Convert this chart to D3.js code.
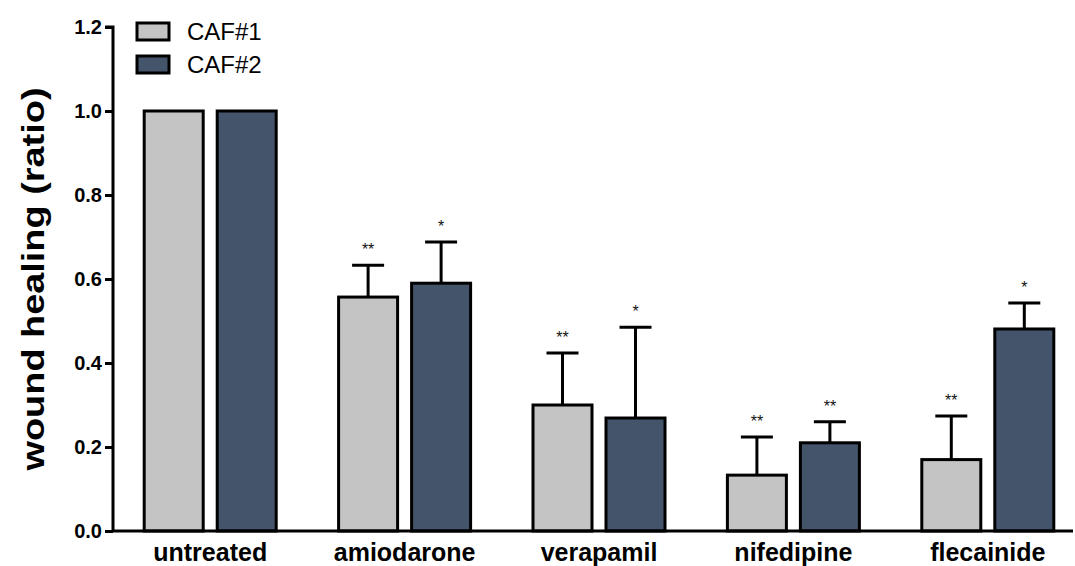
<!DOCTYPE html>
<html><head><meta charset="utf-8">
<script src="https://cdn.jsdelivr.net/npm/d3@7"></script>
<style>body{margin:0;background:#fff}svg{display:block;font-family:"Liberation Sans",Arial,sans-serif}</style>
</head><body><svg id="c" width="1075" height="566"></svg>
<script>
const categories = ["untreated","amiodarone","verapamil","nifedipine","flecainide"];
const series = ["CAF#1","CAF#2"];
const caf1 = [1.0, 0.557, 0.300, 0.133, 0.170];
const caf2 = [1.0, 0.590, 0.269, 0.210, 0.481];
const caf1Err = [0, 0.076, 0.124, 0.091, 0.104];
const caf2Err = [0, 0.098, 0.216, 0.050, 0.062];
const caf1Sig = ["", "**", "**", "**", "**"];
const caf2Sig = ["", "*", "*", "**", "*"];
const yTicks = [0.0, 0.2, 0.4, 0.6, 0.8, 1.0, 1.2];
const colors = ["#c4c4c4", "#44546a"];

const svg = d3.select("#c");
const y = d3.scaleLinear().domain([0, 1.2]).range([531, 27]);
const x0 = d3.scaleBand().domain(categories).range([113, 1085]).padding(0);
const x1 = d3.scaleBand().domain(series).range([-67.5, 67.5]).paddingInner(11/73).paddingOuter(0);

const data = categories.map((c, i) => ({
  cat: c,
  vals: [
    {s: series[0], v: caf1[i], e: caf1Err[i], sig: caf1Sig[i], col: colors[0]},
    {s: series[1], v: caf2[i], e: caf2Err[i], sig: caf2Sig[i], col: colors[1]}
  ]
}));

const g = svg.selectAll("g.grp").data(data).join("g")
  .attr("transform", d => `translate(${x0(d.cat) + x0.bandwidth()/2},0)`);

// error bars (drawn behind bars)
g.selectAll("g.err").data(d => d.vals.filter(v => v.e > 0)).join("g").each(function(d){
  const cx = x1(d.s) + x1.bandwidth()/2;
  const s = d3.select(this);
  s.append("line").attr("x1", cx).attr("x2", cx).attr("y1", y(d.v)).attr("y2", y(d.v + d.e))
    .attr("stroke", "#000").attr("stroke-width", 3);
  s.append("line").attr("x1", cx - 16).attr("x2", cx + 16).attr("y1", y(d.v + d.e)).attr("y2", y(d.v + d.e))
    .attr("stroke", "#000").attr("stroke-width", 3);
  s.append("text").attr("x", cx).attr("y", y(d.v + d.e) - 10).attr("text-anchor", "middle")
    .style("font-size", "16px").attr("fill", "#111").text(d.sig);
});

g.selectAll("rect").data(d => d.vals).join("rect")
  .attr("x", d => x1(d.s) + 1.5)
  .attr("width", x1.bandwidth() - 3)
  .attr("y", d => y(d.v))
  .attr("height", d => y(0) - y(d.v))
  .attr("fill", d => d.col)
  .attr("stroke", "#000").attr("stroke-width", 3);

// y axis
const yAxis = svg.append("g").attr("transform", "translate(113,0)")
  .call(d3.axisLeft(y).tickValues(yTicks).tickFormat(d3.format(".1f")).tickSize(8).tickPadding(3));
yAxis.attr("font-size", null).attr("font-family", null);
yAxis.select(".domain").attr("stroke-width", 3).attr("d", `M-8,${y(1.2)}H0V${y(0)}`);
yAxis.selectAll(".tick line").attr("stroke-width", 3);
yAxis.selectAll(".tick text").style("font-size", "20px").style("font-weight", "bold").attr("fill", "#000");

// x axis
const xAxis = svg.append("g").attr("transform", `translate(0,${y(0)})`)
  .call(d3.axisBottom(x0).tickSize(0).tickPadding(12));
xAxis.attr("font-size", null).attr("font-family", null);
xAxis.select(".domain").attr("stroke-width", 3).attr("d", `M113,0H1073`);
xAxis.selectAll(".tick text").style("font-size", "25px").style("font-weight", "bold").attr("fill", "#000");

// y title
svg.append("text").attr("transform", "translate(44,279) rotate(-90)")
  .attr("text-anchor", "middle").style("font-size", "31px").style("font-weight", "bold")
  .attr("textLength", 383).attr("lengthAdjust", "spacingAndGlyphs")
  .text("wound healing (ratio)");

// legend
const lg = svg.append("g").selectAll("g").data(series).join("g")
  .attr("transform", (d, i) => `translate(137,${23 + i * 33})`);
lg.append("rect").attr("width", 32).attr("height", 17).attr("fill", (d, i) => colors[i])
  .attr("stroke", "#000").attr("stroke-width", 3);
lg.append("text").attr("x", 50).attr("y", 17).style("font-size", "24px").text(d => d);
</script></body></html>
